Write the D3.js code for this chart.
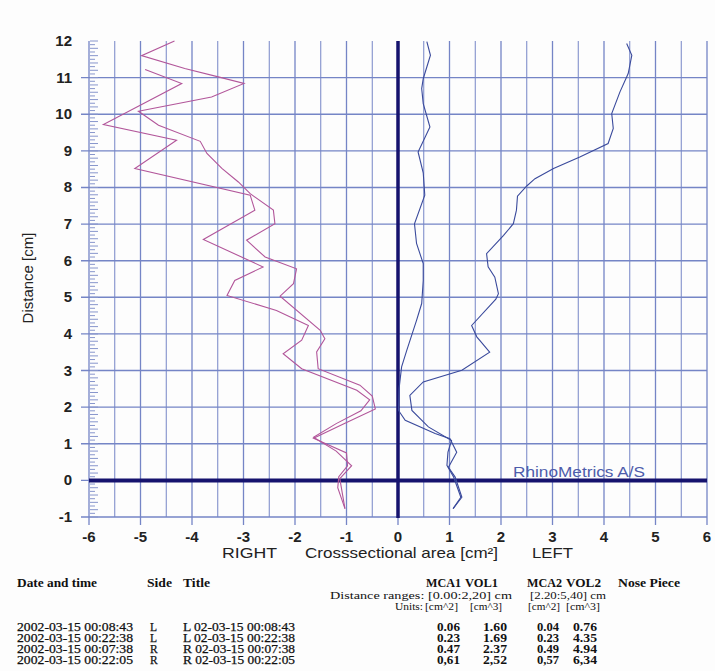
<!DOCTYPE html>
<html>
<head>
<meta charset="utf-8">
<script src="https://cdn.jsdelivr.net/npm/d3@7"></script>
<style>
  body { margin: 0; background: #fff; }
  svg { display: block; }
</style>
</head>
<body>
<div id="chart"></div>
<script>
// ---- data: [area cm2, distance cm], right side drawn as negative area ----
var right1 = [[-4.34,12.0],[-4.98,11.6],[-4.14,11.25],[-3.49,11.02],[-2.99,10.84],[-3.62,10.47],
  [-5.04,10.08],[-4.65,9.70],[-3.84,9.26],[-3.71,8.93],[-3.42,8.52],[-3.10,8.15],[-2.87,7.83],
  [-2.42,7.38],[-2.39,7.01],[-2.94,6.56],[-2.58,6.10],[-1.97,5.78],[-2.03,5.37],[-2.29,5.03],
  [-1.51,4.10],[-1.42,3.87],[-1.58,3.51],[-1.55,3.05],[-0.74,2.60],[-0.50,2.30],[-0.44,1.95],
  [-1.05,1.55],[-1.64,1.15],[-1.0,0.75],[-0.98,0.40],[-1.15,0.10],[-1.17,-0.20],[-1.03,-0.77]];
var right2 = [[-4.91,11.22],[-4.20,10.84],[-5.72,9.72],[-4.30,9.29],[-5.11,8.52],[-2.87,7.79],
  [-2.78,7.38],[-3.78,6.58],[-2.62,5.83],[-3.17,5.46],[-3.32,5.05],[-2.36,4.64],[-1.74,4.23],
  [-1.87,3.83],[-2.23,3.46],[-1.87,3.05],[-0.80,2.46],[-0.55,2.20],[-0.72,1.90],[-1.20,1.55],
  [-1.64,1.18],[-1.20,0.80],[-0.90,0.40],[-1.13,0.05],[-1.03,-0.77]];
var left1 = [[0.56,11.98],[0.63,11.61],[0.49,10.97],[0.46,10.70],[0.49,10.29],[0.62,9.65],
  [0.39,8.97],[0.49,8.40],[0.52,7.79],[0.32,7.01],[0.36,6.47],[0.49,5.92],[0.49,5.46],[0.46,4.83],
  [0.36,4.37],[0.17,3.55],[0.07,3.10],[0.02,2.50],[0.01,1.91],[0.14,1.64],[0.72,1.28],[1.01,1.14],
  [1.14,0.77],[0.98,0.36],[1.11,0.09],[1.24,-0.46],[1.07,-0.77]];
var left2 = [[4.44,11.93],[4.54,11.61],[4.47,11.11],[4.31,10.61],[4.15,10.02],[4.18,9.61],
  [4.08,9.20],[3.53,8.83],[3.02,8.52],[2.66,8.24],[2.50,8.04],[2.32,7.76],[2.30,7.38],[2.24,7.01],
  [2.05,6.69],[1.72,6.19],[1.75,5.83],[1.88,5.55],[1.95,5.10],[1.90,4.95],[1.43,4.23],[1.53,3.92],
  [1.78,3.50],[1.24,3.01],[0.49,2.69],[0.23,2.32],[0.27,1.91],[0.59,1.46],[1.04,1.09],[0.97,0.77],
  [0.95,0.41],[1.08,0.09],[1.22,-0.46],[1.07,-0.77]];

var xTicks = [-6,-5,-4,-3,-2,-1,0,1,2,3,4,5,6];
var yTicks = [-1,0,1,2,3,4,5,6,7,8,9,10,11,12];

var tableHead = ["Date and time", "Side", "Title"];
var dates = ["2002-03-15 00:08:43","2002-03-15 00:22:38","2002-03-15 00:07:38","2002-03-15 00:22:05"];
var sides = ["L","L","R","R"];
var titles = ["L 02-03-15 00:08:43","L 02-03-15 00:22:38","R 02-03-15 00:07:38","R 02-03-15 00:22:05"];
var mca1 = ["0.06","0.23","0.47","0,61"];
var vol1 = ["1.60","1.69","2.37","2,52"];
var mca2 = ["0.04","0.23","0.49","0,57"];
var vol2 = ["0.76","4.35","4.94","6,34"];

var W = 715, H = 671;
var svg = d3.select('#chart').append('svg').attr('width', W).attr('height', H);
svg.append('rect').attr('width', W).attr('height', H).attr('fill', '#fdfdfd');

var x = d3.scaleLinear().domain([-6, 6]).range([89, 707]);
var y = d3.scaleLinear().domain([-1, 12]).range([517, 41]);

var gridCol = '#7585c6';

// vertical grid every 0.5
var halfSteps = d3.range(-6, 6.01, 0.5);
svg.append('g').selectAll('line').data(halfSteps).enter().append('line')
  .attr('x1', function(d) { return x(d); }).attr('x2', function(d) { return x(d); })
  .attr('y1', y(12)).attr('y2', function(d) { return Number.isInteger(d) ? y(-1) + 8 : y(-1); })
  .attr('stroke', gridCol).attr('stroke-width', function(d) { return Number.isInteger(d) ? 1.3 : 1; });

// horizontal grid at integers (not 12)
svg.append('g').selectAll('line').data(yTicks.filter(function(d) { return d < 12; })).enter().append('line')
  .attr('x1', x(-6) - 8).attr('x2', x(6))
  .attr('y1', function(d) { return y(d); }).attr('y2', function(d) { return y(d); })
  .attr('stroke', gridCol).attr('stroke-width', 1.4);

// minor ticks on left axis every 0.1
var minor = d3.range(-10, 121).map(function(i) { return i / 10; });
svg.append('g').selectAll('line').data(minor).enter().append('line')
  .attr('x1', x(-6) + 1).attr('x2', function(d, i) { return x(-6) + (i % 2 == 0 ? 9 : 6); })
  .attr('y1', function(d) { return y(d); }).attr('y2', function(d) { return y(d); })
  .attr('stroke', '#8896cc').attr('stroke-width', 1);

// thick zero axes
svg.append('line').attr('x1', x(0)).attr('x2', x(0)).attr('y1', y(12)).attr('y2', y(-1) + 1)
  .attr('stroke', '#16136e').attr('stroke-width', 3.5);
svg.append('line').attr('x1', x(-6)).attr('x2', x(6)).attr('y1', y(0)).attr('y2', y(0))
  .attr('stroke', '#16136e').attr('stroke-width', 4);

// tick labels
var sans = 'Liberation Sans, Arial, sans-serif';
svg.append('g').selectAll('text').data(yTicks).enter().append('text')
  .attr('x', 72).attr('y', function(d) { return y(d) + 5; })
  .attr('text-anchor', 'end')
  .attr('font-family', sans).attr('font-size', 15).attr('font-weight', 'bold')
  .attr('fill', '#222').text(function(d) { return d; });
svg.append('g').selectAll('text').data(xTicks).enter().append('text')
  .attr('x', function(d) { return x(d); }).attr('y', 542)
  .attr('text-anchor', 'middle')
  .attr('font-family', sans).attr('font-size', 15).attr('font-weight', 'bold')
  .attr('fill', '#222').text(function(d) { return d; });

// axis titles (widths stretched to the original)
function label(xp, yp, s, w, col) {
  return svg.append('text').attr('x', xp).attr('y', yp).attr('font-family', sans).attr('font-size', 15)
    .attr('textLength', w).attr('lengthAdjust', 'spacingAndGlyphs')
    .attr('fill', col || '#222').text(s);
}
svg.append('text').attr('transform', 'translate(33,278) rotate(-90)').attr('text-anchor', 'middle')
  .attr('font-family', sans).attr('font-size', 15).attr('fill', '#222').text('Distance [cm]');
label(222, 558, 'RIGHT', 55);
label(305, 558, 'Crosssectional area [cm²]', 193);
label(532, 558, 'LEFT', 41);
label(513, 477, 'RhinoMetrics A/S', 132, '#4d5cab');

// curves
var line = d3.line().x(function(d) { return x(d[0]); }).y(function(d) { return y(d[1]); });
[right1, right2].forEach(function(s) {
  svg.append('path').datum(s).attr('d', line).attr('fill', 'none')
    .attr('stroke', '#b2569a').attr('stroke-width', 1.1);
});
[left1, left2].forEach(function(s) {
  svg.append('path').datum(s).attr('d', line).attr('fill', 'none')
    .attr('stroke', '#3a4a9c').attr('stroke-width', 1.1);
});

// table
var serif = 'Liberation Serif, Times New Roman, serif';
function txt(xp, yp, s, bold, w, anchor, size) {
  var t = svg.append('text').attr('x', xp).attr('y', yp).attr('font-family', serif)
    .attr('font-size', size || 12)
    .attr('font-weight', bold ? 'bold' : 'normal').attr('text-anchor', anchor || 'start')
    .attr('fill', '#111').text(s);
  if (w) t.attr('textLength', w).attr('lengthAdjust', 'spacingAndGlyphs');
  return t;
}
txt(17, 587, tableHead[0], true, 80);
txt(147, 587, tableHead[1], true, 25);
txt(183, 587, tableHead[2], true, 27);
txt(426, 587, 'MCA1', true, 35);
txt(465, 587, 'VOL1', true, 33);
txt(527, 587, 'MCA2', true, 35);
txt(566, 587, 'VOL2', true, 35);
txt(618, 587, 'Nose Piece', true, 62);
txt(330, 599, 'Distance ranges: [0.00:2,20] cm', false, 182, 'start', 11);
txt(530, 599, '[2.20:5,40] cm', false, 76, 'start', 11);
txt(423, 610, 'Units:', false, 28, 'end', 11);
txt(425, 610, '[cm^2]', false, 33, 'start', 11);
txt(470, 610, '[cm^3]', false, 32, 'start', 11);
txt(528, 610, '[cm^2]', false, 32, 'start', 11);
txt(566, 610, '[cm^3]', false, 34, 'start', 11);

var rowY = d3.scaleLinear().domain([0, 3]).range([631, 664]);
dates.forEach(function(d, i) {
  var yy = rowY(i);
  txt(17, yy, d, false, 116, 'start', 11.5).attr('stroke', '#111').attr('stroke-width', 0.25);
  txt(150, yy, sides[i], false, null, 'start', 11.5).attr('stroke', '#111').attr('stroke-width', 0.25);
  txt(183, yy, titles[i], false, 112, 'start', 11.5).attr('stroke', '#111').attr('stroke-width', 0.25);
  txt(437, yy, mca1[i], true, 23, 'start', 11.5);
  txt(483, yy, vol1[i], true, 24, 'start', 11.5);
  txt(537, yy, mca2[i], true, 22, 'start', 11.5);
  txt(573, yy, vol2[i], true, 24, 'start', 11.5);
});
</script>
</body>
</html>
